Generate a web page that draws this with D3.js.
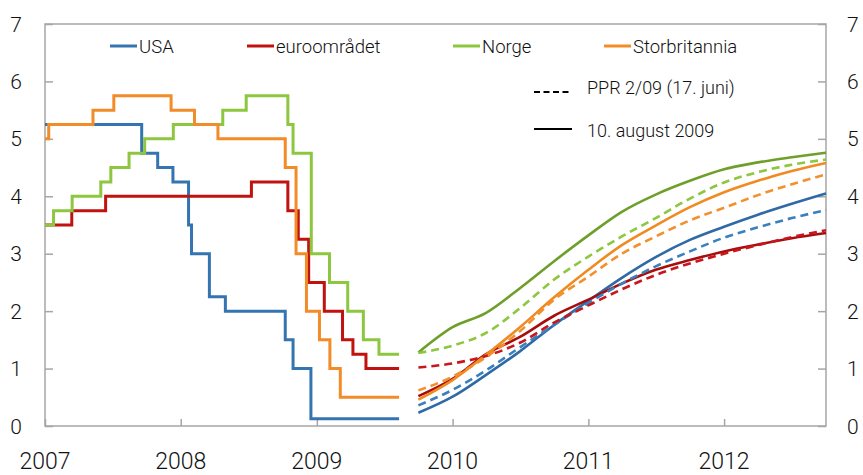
<!DOCTYPE html>
<html>
<head>
<meta charset="utf-8">
<script src="https://cdn.jsdelivr.net/npm/d3@7/dist/d3.min.js"></script>
<style>
  html, body { margin: 0; padding: 0; background: #fff; }
  svg { display: block; font-family: Roboto, "Liberation Sans", Arial, sans-serif; font-weight: 300; }
</style>
</head>
<body>
<svg id="chart" width="863" height="475"></svg>
<script>
// ---------- DATA ----------
const yTicks = [0, 1, 2, 3, 4, 5, 6, 7];
const xTickYears = ["2007", "2008", "2009", "2010", "2011", "2012"];

// Historical policy rates (step series), dates of changes
const usaDates  = ["2007-01-01","2007-09-18","2007-10-31","2007-12-11","2008-01-22","2008-01-30","2008-03-18","2008-04-30","2008-10-08","2008-10-29","2008-12-16","2009-08-10"];
const usaRates  = [5.25, 4.75, 4.5, 4.25, 3.5, 3.0, 2.25, 2.0, 1.5, 1.0, 0.125, 0.125];

const euroDates = ["2007-01-01","2007-03-14","2007-06-13","2008-07-09","2008-10-15","2008-11-12","2008-12-10","2009-01-21","2009-03-11","2009-04-08","2009-05-13","2009-08-10"];
const euroRates = [3.5, 3.75, 4.0, 4.25, 3.75, 3.25, 2.5, 2.0, 1.5, 1.25, 1.0, 1.0];

const norgeDates = ["2007-01-01","2007-01-24","2007-03-15","2007-05-31","2007-06-27","2007-08-15","2007-09-26","2007-12-12","2008-04-23","2008-06-25","2008-10-15","2008-10-29","2008-12-17","2009-02-04","2009-03-25","2009-05-06","2009-06-17","2009-08-10"];
const norgeRates = [3.5, 3.75, 4.0, 4.25, 4.5, 4.75, 5.0, 5.25, 5.5, 5.75, 5.25, 4.75, 3.0, 2.5, 2.0, 1.5, 1.25, 1.25];

const ukDates = ["2007-01-01","2007-01-11","2007-05-10","2007-07-05","2007-12-06","2008-02-07","2008-04-10","2008-10-08","2008-11-06","2008-12-04","2009-01-08","2009-02-05","2009-03-05","2009-08-10"];
const ukRates = [5.0, 5.25, 5.5, 5.75, 5.5, 5.25, 5.0, 4.5, 3.0, 2.0, 1.5, 1.0, 0.5, 0.5];

// Forward rates (quarterly)
const fwdDates = ["2009-10-01","2010-01-01","2010-04-01","2010-07-01","2010-10-01","2011-01-01","2011-04-01","2011-07-01","2011-10-01","2012-01-01","2012-04-01","2012-07-01","2012-10-01"];
// 10. august 2009 (solid)
const usaAug   = [0.23, 0.51, 0.89, 1.30, 1.76, 2.18, 2.58, 2.94, 3.24, 3.47, 3.68, 3.87, 4.05];
const euroAug  = [0.52, 0.82, 1.25, 1.55, 1.92, 2.20, 2.48, 2.72, 2.89, 3.04, 3.16, 3.27, 3.36];
const norgeAug = [1.28, 1.72, 1.97, 2.40, 2.87, 3.32, 3.73, 4.03, 4.27, 4.47, 4.59, 4.68, 4.76];
const ukAug    = [0.46, 0.80, 1.24, 1.72, 2.24, 2.72, 3.15, 3.49, 3.81, 4.07, 4.27, 4.44, 4.58];
// PPR 2/09 (17. juni) (dashed)
const usaJun   = [0.36, 0.63, 0.97, 1.37, 1.76, 2.14, 2.48, 2.78, 3.04, 3.28, 3.46, 3.62, 3.76];
const euroJun  = [1.02, 1.09, 1.22, 1.45, 1.80, 2.10, 2.38, 2.63, 2.83, 3.00, 3.15, 3.29, 3.41];
const norgeJun = [1.27, 1.40, 1.62, 2.05, 2.55, 2.95, 3.30, 3.62, 3.96, 4.24, 4.42, 4.55, 4.64];
const ukJun    = [0.62, 0.86, 1.20, 1.65, 2.20, 2.60, 3.00, 3.30, 3.58, 3.80, 4.02, 4.21, 4.38];

const seriesNames = ["USA", "euroområdet", "Norge", "Storbritannia"];
const styleNames = ["PPR 2/09 (17. juni)", "10. august 2009"];

// ---------- STYLE ----------
const colStep = ["#3474b0", "#c0120f", "#8dc63f", "#f28c28"];
const colSolid = ["#2f6aa5", "#a80d0d", "#6e9f2a", "#f08a22"];
const colDash = ["#3a80bf", "#c8161d", "#8dc63f", "#f2902e"];

const L = 45, R = 826, T = 24, B = 426;
const parse = d3.timeParse("%Y-%m-%d");

const svg = d3.select("#chart");

const x = d3.scaleTime()
  .domain([parse("2007-01-01"), parse("2012-10-01")])
  .range([L, R]);
const y = d3.scaleLinear().domain([0, 7]).range([B, T]);

const axisColor = "#a6a6a6";

// Frame
svg.append("rect")
  .attr("x", L).attr("y", T).attr("width", R - L).attr("height", B - T)
  .attr("fill", "none").attr("stroke", axisColor).attr("stroke-width", 1.5);

// Left axis (ticks inside)
const leftAxis = d3.axisRight(y).tickValues(yTicks).tickSize(8).tickFormat("");
const gl = svg.append("g").attr("transform", `translate(${L},0)`).call(leftAxis);
gl.select(".domain").remove();
gl.selectAll("line").attr("stroke", axisColor).attr("stroke-width", 1.5);

const rightAxis = d3.axisLeft(y).tickValues(yTicks).tickSize(8).tickFormat("");
const gr = svg.append("g").attr("transform", `translate(${R},0)`).call(rightAxis);
gr.select(".domain").remove();
gr.selectAll("line").attr("stroke", axisColor).attr("stroke-width", 1.5);

// y labels
svg.append("g").selectAll("text").data(yTicks).join("text")
  .attr("x", 22).attr("y", d => y(d) + 7.5)
  .attr("text-anchor", "end").attr("font-size", 21).attr("fill", "#111")
  .text(d => d);
svg.append("g").selectAll("text").data(yTicks).join("text")
  .attr("x", 847).attr("y", d => y(d) + 7.5)
  .attr("text-anchor", "start").attr("font-size", 21).attr("fill", "#111")
  .text(d => d);

// x axis ticks (inside, upward)
const xTickDates = xTickYears.map(s => parse(s + "-01-01"));
const bottomAxis = d3.axisTop(x).tickValues(xTickDates).tickSize(7).tickFormat("");
const gb = svg.append("g").attr("transform", `translate(0,${B})`).call(bottomAxis);
gb.select(".domain").remove();
gb.selectAll("line").attr("stroke", axisColor).attr("stroke-width", 1.5);

svg.append("g").selectAll("text").data(xTickYears).join("text")
  .attr("x", d => x(parse(d + "-01-01")))
  .attr("y", 469)
  .attr("text-anchor", "middle").attr("font-size", 23).attr("fill", "#111")
  .text(d => d);

// ---------- LINES ----------
const stepLine = d3.line().x(d => x(d[0])).y(d => y(d[1])).curve(d3.curveStepAfter);
const fwdLine = d3.line().x(d => x(d[0])).y(d => y(d[1])).curve(d3.curveMonotoneX);

const steps = [
  [usaDates, usaRates], [euroDates, euroRates], [norgeDates, norgeRates], [ukDates, ukRates]
];
const solids = [usaAug, euroAug, norgeAug, ukAug];
const dashes = [usaJun, euroJun, norgeJun, ukJun];

const plot = svg.append("g");
steps.forEach((s, i) => {
  const pts = s[0].map((d, k) => [parse(d), s[1][k]]);
  plot.append("path").attr("d", stepLine(pts))
    .attr("fill", "none").attr("stroke", colStep[i]).attr("stroke-width", 3);
});
const fd = fwdDates.map(parse);
solids.forEach((arr, i) => {
  plot.append("path").attr("d", fwdLine(arr.map((v, k) => [fd[k], v])))
    .attr("fill", "none").attr("stroke", colSolid[i]).attr("stroke-width", 2.6);
});
dashes.forEach((arr, i) => {
  plot.append("path").attr("d", fwdLine(arr.map((v, k) => [fd[k], v])))
    .attr("fill", "none").attr("stroke", colDash[i]).attr("stroke-width", 2.6)
    .attr("stroke-dasharray", "8,5");
});

// ---------- LEGEND ----------
const legX = [110, 247, 453, 604];
seriesNames.forEach((n, i) => {
  svg.append("line").attr("x1", legX[i]).attr("x2", legX[i] + 27)
    .attr("y1", 46).attr("y2", 46)
    .attr("stroke", colStep[i]).attr("stroke-width", 3);
  svg.append("text").attr("x", legX[i] + 29).attr("y", 53)
    .attr("font-size", 18.5).attr("fill", "#111").text(n);
});
svg.append("line").attr("x1", 534).attr("x2", 572).attr("y1", 92).attr("y2", 92)
  .attr("stroke", "#000").attr("stroke-width", 2).attr("stroke-dasharray", "6,3.5");
svg.append("text").attr("x", 587).attr("y", 94).attr("font-size", 18).attr("fill", "#111").text(styleNames[0]);
svg.append("line").attr("x1", 534).attr("x2", 572).attr("y1", 129).attr("y2", 129)
  .attr("stroke", "#000").attr("stroke-width", 2);
svg.append("text").attr("x", 587).attr("y", 137).attr("font-size", 18).attr("fill", "#111").text(styleNames[1]);
</script>
</body>
</html>
